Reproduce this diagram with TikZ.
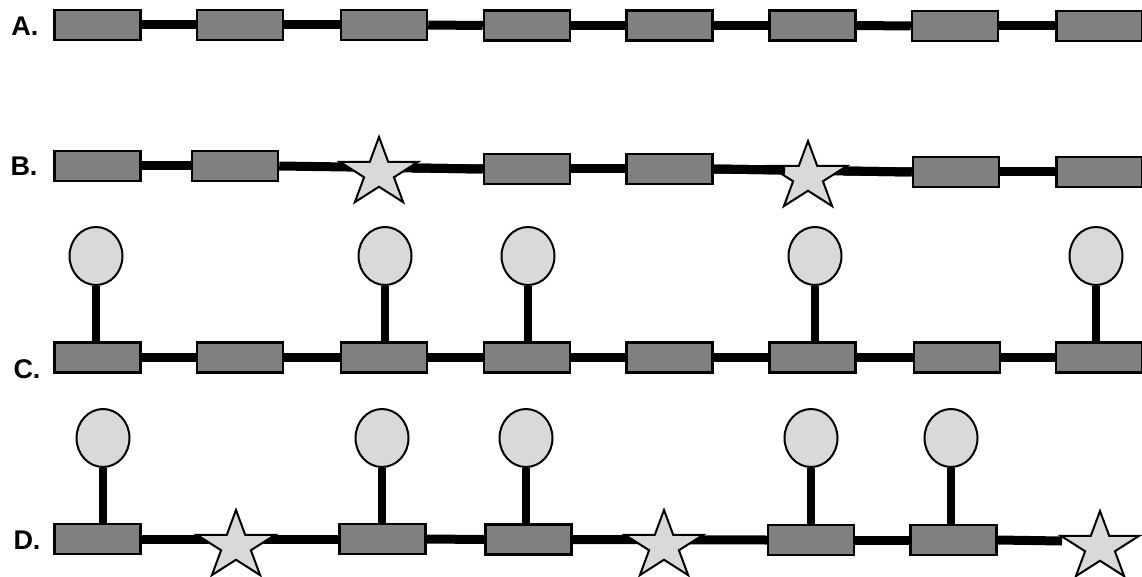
\documentclass[tikz,border=0pt]{standalone}
\usepackage{fontspec}
\setmainfont{Liberation Sans}
\usetikzlibrary{shapes.geometric}
\definecolor{unitgray}{HTML}{808080}
\definecolor{knobgray}{HTML}{D9D9D9}
\pgfdeclarelayer{bg}
\pgfsetlayers{bg,main}
\tikzset{
  unit/.style={rectangle, draw=black, fill=unitgray, line width=2.5pt,
    minimum width=86pt, minimum height=30pt, inner sep=0pt},
  knob/.style={ellipse, draw=black, fill=knobgray, line width=2pt,
    minimum width=53pt, minimum height=58pt, inner sep=0pt},
  starnode/.style={star, star points=5, star point ratio=2.618,
    minimum size=72pt, inner sep=0pt, draw=black, fill=knobgray, line width=2pt},
  chain/.style={line width=9pt, black},
  stem/.style={line width=8pt, black},
  rowlabel/.style={inner sep=0pt, font=\bfseries\fontsize{27}{27}\selectfont}
}
% a five-pointed star, slightly widened
\newcommand\pstar[3]{%
  \begin{scope}[shift={(#2,#3)}, xscale=1.14]
    \node[starnode, transform shape] (#1) at (0,0) {};
  \end{scope}}
\begin{document}
\begin{tikzpicture}[x=1pt, y=-1pt]
\useasboundingbox (0,0) rectangle (1142,577);

% ---------------- row A ----------------
\node[rowlabel] (la) at (25,26) {A.};
\node[unit] (a1) at (97.5,25) {};
\node[unit] (a2) at (240,25) {};
\node[unit] (a3) at (384,25) {};
\node[unit] (a4) at (527,25.5) {};
\node[unit] (a5) at (669.5,25.5) {};
\node[unit] (a6) at (812.5,25.5) {};
\node[unit] (a7) at (955,26) {};
\node[unit] (a8) at (1099.5,26) {};
\begin{pgfonlayer}{bg}
  \foreach \p/\q in {a1/a2,a2/a3,a3/a4,a4/a5,a5/a6,a6/a7,a7/a8}
    \draw[chain] (\p.east) -- (\q.west);
\end{pgfonlayer}

% ---------------- row B ----------------
\node[rowlabel] (lb) at (24,166) {B.};
\node[unit] (b1) at (97.5,166) {};
\node[unit] (b2) at (235,166) {};
\node[unit] (b3) at (527,169) {};
\node[unit] (b4) at (669.5,169) {};
\node[unit] (b5) at (956,172) {};
\node[unit] (b6) at (1099.5,172) {};
\pstar{sb1}{379}{173}
\pstar{sb2}{808}{177}
\coordinate (sb1r) at (412,168);
\coordinate (sb2l) at (785,170);
\coordinate (sb2r) at (843,171);
\begin{pgfonlayer}{bg}
  \foreach \p/\q in {b1/b2,b2/b3,b3/b4,b4/b5,b5/b6}
    \draw[chain] (\p.east) -- (\q.west);
\end{pgfonlayer}
\draw[chain] (sb1r) -- (b3.west);
\draw[chain] (b4.east) -- (sb2l);
\draw[chain] (sb2r) -- (b5.west);

% ---------------- row C ----------------
\node[rowlabel] (lc) at (27,369) {C.};
\node[unit] (c1) at (97.5,357.5) {};
\node[unit] (c2) at (240,357.5) {};
\node[unit] (c3) at (384,357.5) {};
\node[unit] (c4) at (527,357.5) {};
\node[unit] (c5) at (669.5,357.5) {};
\node[unit] (c6) at (812.5,357.5) {};
\node[unit] (c7) at (957,357.5) {};
\node[unit] (c8) at (1099,357.5) {};
\node[knob] (k1) at (96,256) {};
\node[knob] (k3) at (385,256) {};
\node[knob] (k4) at (528,256) {};
\node[knob] (k6) at (815,256) {};
\node[knob] (k8) at (1096,256) {};
\begin{pgfonlayer}{bg}
  \foreach \p/\q in {c1/c2,c2/c3,c3/c4,c4/c5,c5/c6,c6/c7,c7/c8}
    \draw[chain] (\p.east) -- (\q.west);
  \foreach \k/\c in {k1/c1,k3/c3,k4/c4,k6/c6,k8/c8}
    \draw[stem] (\k.south) -- (\k.south |- \c.north);
\end{pgfonlayer}

% ---------------- row D ----------------
\node[rowlabel] (ld) at (27,540) {D.};
\node[unit] (d1) at (97.5,539) {};
\node[unit] (d2) at (382.5,539) {};
\node[unit] (d3) at (528.5,539.5) {};
\node[unit] (d4) at (811,540) {};
\node[unit] (d5) at (953.5,540) {};
\node[knob] (m1) at (103,438) {};
\node[knob] (m2) at (382,438) {};
\node[knob] (m3) at (526,438) {};
\node[knob] (m4) at (811,438) {};
\node[knob] (m5) at (951,438) {};
\pstar{sd1}{236}{546}
\pstar{sd2}{664}{546}
\pstar{sd3}{1100}{547}
\coordinate (sd3l) at (1062,541);
\begin{pgfonlayer}{bg}
  \foreach \p/\q in {d1/d2,d2/d3,d3/d4,d4/d5}
    \draw[chain] (\p.east) -- (\q.west);
  \foreach \k/\c in {m1/d1,m2/d2,m3/d3,m4/d4,m5/d5}
    \draw[stem] (\k.south) -- (\k.south |- \c.north);
\end{pgfonlayer}
\draw[chain] (d5.east) -- (sd3l);
\end{tikzpicture}
\end{document}
